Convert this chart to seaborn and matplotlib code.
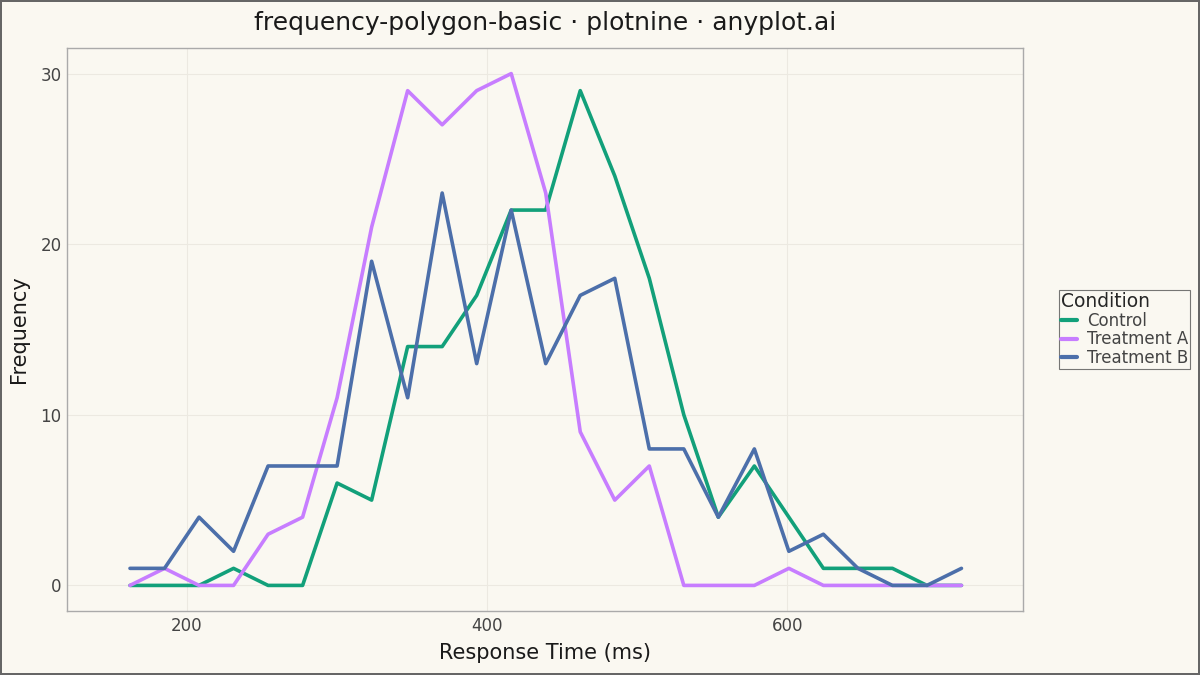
import matplotlib
matplotlib.use("Agg")
import matplotlib.pyplot as plt
import seaborn as sns
import pandas as pd

bin_centers = [162, 185, 208, 231, 254, 277, 300, 323, 347, 370, 393, 416, 439,
               462, 485, 508, 531, 554, 578, 601, 624, 647, 670, 693, 716]
control = [0, 0, 0, 1, 0, 0, 6, 5, 14, 14, 17, 22, 22, 29, 24, 18, 10, 4, 7, 4, 1, 1, 1, 0, 0]
treatment_a = [0, 1, 0, 0, 3, 4, 11, 21, 29, 27, 29, 30, 23, 9, 5, 7, 0, 0, 0, 1, 0, 0, 0, 0, 0]
treatment_b = [1, 1, 4, 2, 7, 7, 7, 19, 11, 23, 13, 22, 13, 17, 18, 8, 8, 4, 8, 2, 3, 1, 0, 0, 1]
conditions = ["Control", "Treatment A", "Treatment B"]
colors = ["#12A07A", "#C77DFF", "#4C6FAA"]

rows = []
for name, vals in zip(conditions, [control, treatment_a, treatment_b]):
    for x, v in zip(bin_centers, vals):
        rows.append({"Response Time (ms)": x, "Frequency": v, "Condition": name})
df = pd.DataFrame(rows)

bg = "#FAF8F1"
sns.set_theme(style="white")
plt.rcParams["font.family"] = ["DejaVu Sans"]

fig = plt.figure(figsize=(12, 6.75), dpi=100, facecolor=bg,
                 edgecolor="#666666", linewidth=1.5)
ax = fig.add_axes([0.0558, 0.0948, 0.7967, 0.8341])
ax.set_facecolor(bg)

sns.lineplot(data=df, x="Response Time (ms)", y="Frequency", hue="Condition",
             hue_order=conditions, palette=colors, linewidth=2.6, ax=ax)

ax.set_xlim(120, 757)
ax.set_ylim(-1.5, 31.5)
ax.set_xticks([200, 400, 600])
ax.set_yticks([0, 10, 20, 30])
ax.grid(True, color="#ECE9E1", linewidth=0.8)
ax.tick_params(axis="both", length=0, labelsize=12, labelcolor="#444444", pad=4)
for s in ax.spines.values():
    s.set_color("#AAAAAA")
    s.set_linewidth(1.0)
ax.set_xlabel("Response Time (ms)", fontsize=15, color="#1a1a1a", labelpad=6)
ax.set_ylabel("Frequency", fontsize=15, color="#1a1a1a", labelpad=8)
ax.set_title("frequency-polygon-basic · plotnine · anyplot.ai", fontsize=18,
             color="#1a1a1a", pad=13)

leg = ax.legend(title="Condition", loc="center left", bbox_to_anchor=(1.038, 0.5),
                frameon=True, fontsize=12, title_fontsize=13.5,
                handlelength=1.0, handletextpad=0.6, borderpad=0.08,
                labelspacing=0.05, borderaxespad=0)
leg.get_frame().set_edgecolor("#555555")
leg.get_frame().set_facecolor(bg)
leg.get_frame().set_linewidth(0.8)
leg.get_frame().set_boxstyle("square", pad=0)
leg._legend_box.align = "left"
for line in leg.get_lines():
    line.set_linewidth(3.0)
for t in leg.get_texts():
    t.set_color("#444444")

fig.savefig("out.png", dpi=100, facecolor=bg, edgecolor="#666666")
